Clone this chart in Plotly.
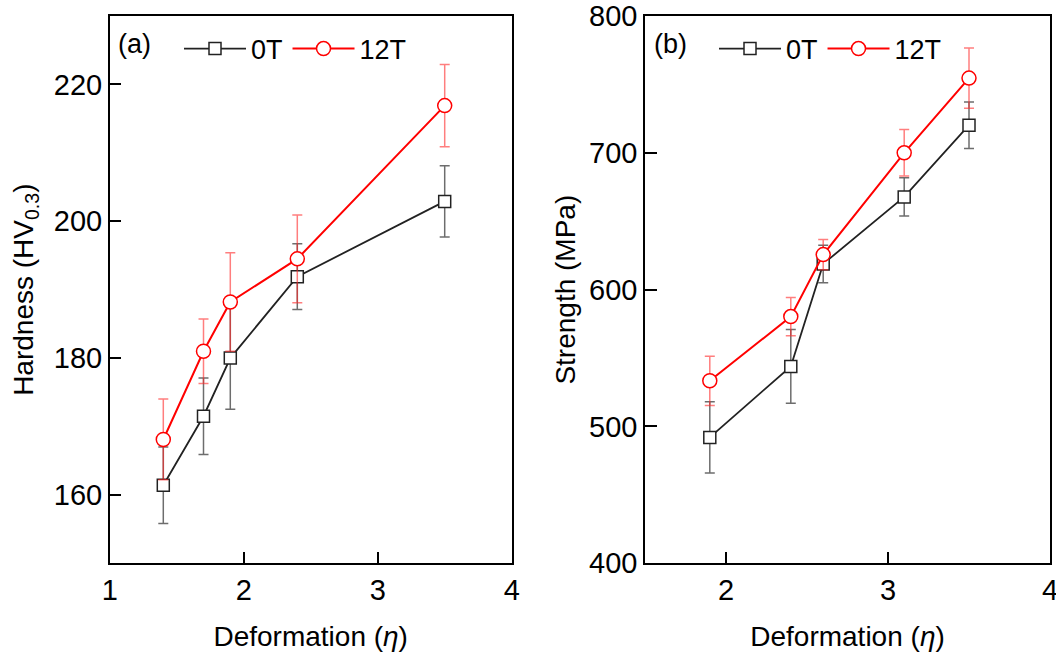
import plotly.graph_objects as go

# Panel (a): Hardness
hx = [1.4, 1.7, 1.9, 2.4, 3.5]
h0 = [161.4, 171.5, 180.0, 191.9, 202.9]
h0_err = [5.6, 5.6, 7.5, 4.8, 5.2]
h12 = [168.1, 181.0, 188.2, 194.5, 216.9]
h12_err = [5.9, 4.7, 7.2, 6.4, 6.0]

# Panel (b): Strength
sx = [1.9, 2.4, 2.6, 3.1, 3.5]
s0 = [492.0, 543.9, 618.8, 667.8, 720.2]
s0_err = [26.0, 27.0, 13.7, 14.0, 17.0]
s12 = [533.4, 580.3, 625.6, 700.0, 754.6]
s12_err = [18.0, 14.0, 11.0, 17.0, 22.0]

FONT = "Liberation Sans, Arial, sans-serif"
BLACK_ERR = "rgba(60,60,60,0.75)"
RED_ERR = "rgba(255,40,40,0.6)"

fig = go.Figure()

def add_series(x, y, err, name, color, ecolor, symbol, msize, xa, ya, legend, lw):
    fig.add_trace(go.Scatter(
        x=x, y=y, name=name, mode="lines+markers",
        xaxis=xa, yaxis=ya, legend=legend,
        line=dict(color=color, width=lw),
        marker=dict(symbol=symbol, size=msize, color="white",
                    line=dict(color=color, width=1.5)),
        error_y=dict(type="data", array=err, visible=True,
                     color=ecolor, thickness=1.5, width=5),
    ))

add_series(hx, h0, h0_err, "0T", "#222222", BLACK_ERR, "square", 12, "x", "y", "legend", 1.8)
add_series(hx, h12, h12_err, "12T", "#ff0000", RED_ERR, "circle", 14, "x", "y", "legend", 2)
add_series(sx, s0, s0_err, "0T", "#222222", BLACK_ERR, "square", 12, "x2", "y2", "legend2", 1.8)
add_series(sx, s12, s12_err, "12T", "#ff0000", RED_ERR, "circle", 14, "x2", "y2", "legend2", 2)

W, H = 1056, 657
def px(v):
    return v / W
def py(v):
    return 1 - v / H

axis_common = dict(
    showline=True, linecolor="black", linewidth=1.5, mirror=True,
    ticks="inside", ticklen=12, tickwidth=1.5, tickcolor="black",
    showgrid=False, zeroline=False, automargin=False,
    ticklabeloverflow="allow",
    tickfont=dict(family=FONT, size=29, color="black"),
)
title_font = dict(family=FONT, size=28, color="black")

fig.update_layout(
    width=W, height=H,
    margin=dict(l=0, r=0, t=0, b=0),
    paper_bgcolor="white", plot_bgcolor="white",
    font=dict(family=FONT, color="black"),
    xaxis=dict(domain=[px(109.7), px(511.7)], range=[1, 4], tickvals=[1, 2, 3, 4],
               title=dict(text="Deformation (<i>η</i>)", font=title_font, standoff=22),
               anchor="y", **axis_common),
    yaxis=dict(domain=[py(563.3), py(16)], range=[150, 230], tickvals=[160, 180, 200, 220],
               title=dict(text="Hardness (HV<sub>0.3</sub>)", font=title_font, standoff=12),
               anchor="x", **axis_common),
    xaxis2=dict(domain=[px(645), px(1050)], range=[1.5, 4], tickvals=[2, 3, 4],
                title=dict(text="Deformation (<i>η</i>)", font=title_font, standoff=22),
                anchor="y2", **axis_common),
    yaxis2=dict(domain=[py(563.3), py(16)], range=[400, 800], tickvals=[400, 500, 600, 700, 800],
                title=dict(text="Strength (MPa)", font=title_font, standoff=5),
                anchor="x2", **axis_common),
    legend=dict(orientation="h", x=px(179), y=py(49), xanchor="left", yanchor="middle",
                font=dict(family=FONT, size=27, color="black"),
                bgcolor="rgba(0,0,0,0)", itemwidth=62, tracegroupgap=0),
    legend2=dict(orientation="h", x=px(714), y=py(49), xanchor="left", yanchor="middle",
                 font=dict(family=FONT, size=27, color="black"),
                 bgcolor="rgba(0,0,0,0)", itemwidth=62, tracegroupgap=0),
    annotations=[
        dict(text="(a)", x=px(116), y=py(44), xref="paper", yref="paper",
             xanchor="left", yanchor="middle", showarrow=False,
             font=dict(family=FONT, size=27, color="black")),
        dict(text="(b)", x=px(652), y=py(44), xref="paper", yref="paper",
             xanchor="left", yanchor="middle", showarrow=False,
             font=dict(family=FONT, size=27, color="black")),
    ],
)

fig.write_html("out.html", config={"displayModeBar": False},
               post_script="document.body.style.margin='0';document.body.style.overflow='hidden';")
